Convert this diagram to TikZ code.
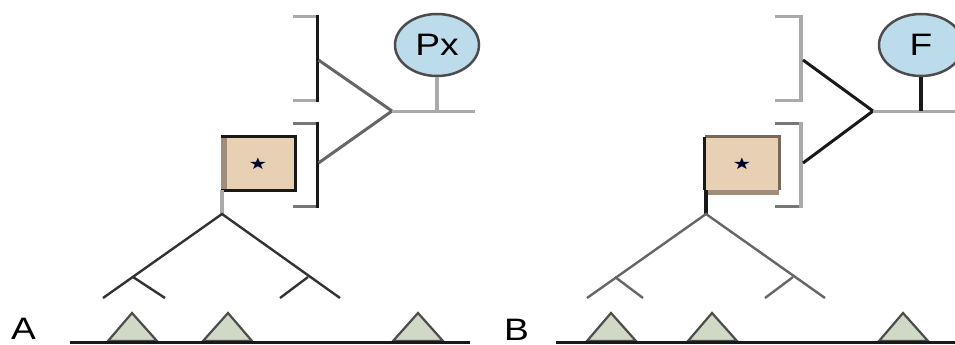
\documentclass[tikz,border=0pt]{standalone}
\usepackage{fontspec}
\setmainfont{Liberation Sans}
\newfontfamily\symfont{DejaVu Sans}
\usetikzlibrary{shapes.geometric}
\definecolor{ellfill}{HTML}{BCDCEC}
\definecolor{boxfill}{HTML}{E8D0B4}
\definecolor{trifill}{HTML}{CFD9C6}
\definecolor{lgray}{HTML}{AAAAAA}
\definecolor{mgray}{HTML}{777777}
\definecolor{dgray}{HTML}{666666}
\definecolor{brgray}{HTML}{A08C7A}
\definecolor{brdark}{HTML}{76685A}
\tikzset{
  bigtext/.style={font=\fontsize{31}{31}\selectfont},
  ellnode/.style={ellipse, draw=black!70, line width=2.5pt, fill=ellfill, minimum width=84pt, minimum height=62pt, inner sep=0pt, bigtext},
  boxnode/.style={rectangle, fill=boxfill, minimum width=74pt, minimum height=53pt, inner sep=0pt},
  ticklight/.style={draw=lgray, line width=3pt},
  tickdark/.style={draw=mgray, line width=3pt},
  treeA/.style={draw=black!80, line width=2.4pt},
  treeB/.style={draw=dgray, line width=2.4pt},
  tri/.style={fill=trifill, draw=black!70, line width=2.2pt, line join=miter},
  ground/.style={draw=black!90, line width=3pt},
  startext/.style={font=\symfont\fontsize{16}{16}\selectfont, text=black!85!blue}
}
\begin{document}
\begin{tikzpicture}[x=1pt,y=-1pt]
\useasboundingbox (0,0) rectangle (955,345);
\clip (0,0) rectangle (955,345);

% ================= Panel A =================
% brackets
\draw[ticklight] (293,17) -- (318,17);
\draw[ticklight] (293,100) -- (318,100);
\draw[draw=black!90, line width=3pt] (317,15.5) -- (317,101.5);
\draw[tickdark] (293,123) -- (318,123);
\draw[tickdark] (293,206) -- (318,206);
\draw[draw=black!90, line width=3pt] (317,121.5) -- (317,207.5);
\coordinate (aB1) at (318.5,60);
\coordinate (aB2) at (318.5,163);
\coordinate (aJ) at (392,111);
\coordinate (aE) at (475,111);
\draw[draw=dgray, line width=3pt] (aB1) -- (aJ) -- (aB2);
\draw[draw=lgray, line width=3pt] (aJ) -- (aE);
\node[ellnode] (aPx) at (437,45) {\scalebox{1.2}[1]{Px}};
\draw[draw=lgray, line width=3.5pt] (aPx.south) -- (aPx.south |- aJ);
% box
\node[boxnode] (aBox) at (258,163.5) {};
\fill[brgray] (aBox.north west) rectangle ([xshift=6pt]aBox.south west);
\draw[draw=black!90, line width=3pt] (aBox.north west) -- (aBox.north east) -- (aBox.south east) -- (aBox.south west);
\node[startext] (aStar) at (aBox.center) {\scalebox{1.3}[1]{★}};
% tree
\coordinate (aTop) at (222,214);
\draw[draw=lgray, line width=4pt] (aTop |- aBox.south) -- (aTop);
\coordinate (aLL) at (103,298);
\coordinate (aLs) at (133,277);
\coordinate (aLR) at (165,298);
\coordinate (aRR) at (340,298);
\coordinate (aRs) at (308,277);
\coordinate (aRL) at (280,298);
\draw[treeA] (aLL) -- (aTop) -- (aRR);
\draw[treeA] (aLs) -- (aLR);
\draw[treeA] (aRs) -- (aRL);
% triangles and ground
\draw[tri] (108,341) -- (132,313) -- (157,341) -- cycle;
\draw[tri] (203,341) -- (228,313) -- (252,341) -- cycle;
\draw[tri] (393,341) -- (418,313) -- (443,341) -- cycle;
\draw[ground] (70,342.5) -- (470,342.5);
\node[bigtext, anchor=base west, inner sep=0pt] (labA) at (11,339) {\scalebox{1.2}[1]{A}};

% ================= Panel B =================
\draw[ticklight] (775,17) -- (803,17);
\draw[ticklight] (775,100) -- (803,100);
\draw[draw=lgray, line width=3.5pt] (801,15.5) -- (801,101.5);
\draw[tickdark] (775,123) -- (803,123);
\draw[tickdark] (775,206) -- (803,206);
\draw[draw=lgray, line width=3.5pt] (801,121.5) -- (801,207.5);
\coordinate (bB1) at (803,60);
\coordinate (bB2) at (803,163);
\coordinate (bJ) at (873,111);
\coordinate (bE) at (955,111);
\draw[draw=black!90, line width=3pt] (bB1) -- (bJ) -- (bB2);
\draw[draw=lgray, line width=3pt] (bJ) -- (bE);
\node[ellnode] (bF) at (921,45) {\scalebox{1.2}[1]{F}};
\draw[draw=black!90, line width=3.5pt] (bF.south) -- (bF.south |- bJ);
% box
\node[boxnode] (bBox) at (742,163.5) {};
\fill[brgray] ([yshift=-5pt]bBox.south west) rectangle (bBox.south east);
\draw[draw=brdark, line width=3pt] (bBox.south east) -- (bBox.north east) -- (bBox.north west);
\draw[draw=black!90, line width=3pt] (bBox.north west) -- (bBox.south west);
\node[startext] (bStar) at (bBox.center) {\scalebox{1.3}[1]{★}};
% tree
\coordinate (bTop) at (706,214);
\draw[draw=black!90, line width=3.5pt] (bTop |- bBox.south) -- (bTop);
\coordinate (bLL) at (587,298);
\coordinate (bLs) at (615,277);
\coordinate (bLR) at (643,298);
\coordinate (bRR) at (825,298);
\coordinate (bRs) at (793,277);
\coordinate (bRL) at (765,298);
\draw[treeB] (bLL) -- (bTop) -- (bRR);
\draw[treeB] (bLs) -- (bLR);
\draw[treeB] (bRs) -- (bRL);
% triangles and ground
\draw[tri] (587,341) -- (611,313) -- (636,341) -- cycle;
\draw[tri] (688,341) -- (712,313) -- (737,341) -- cycle;
\draw[tri] (879,341) -- (903,313) -- (928,341) -- cycle;
\draw[ground] (556,342.5) -- (955,342.5);
\node[bigtext, anchor=base west, inner sep=0pt] (labB) at (504,340) {\scalebox{1.2}[1]{B}};
\end{tikzpicture}
\end{document}
